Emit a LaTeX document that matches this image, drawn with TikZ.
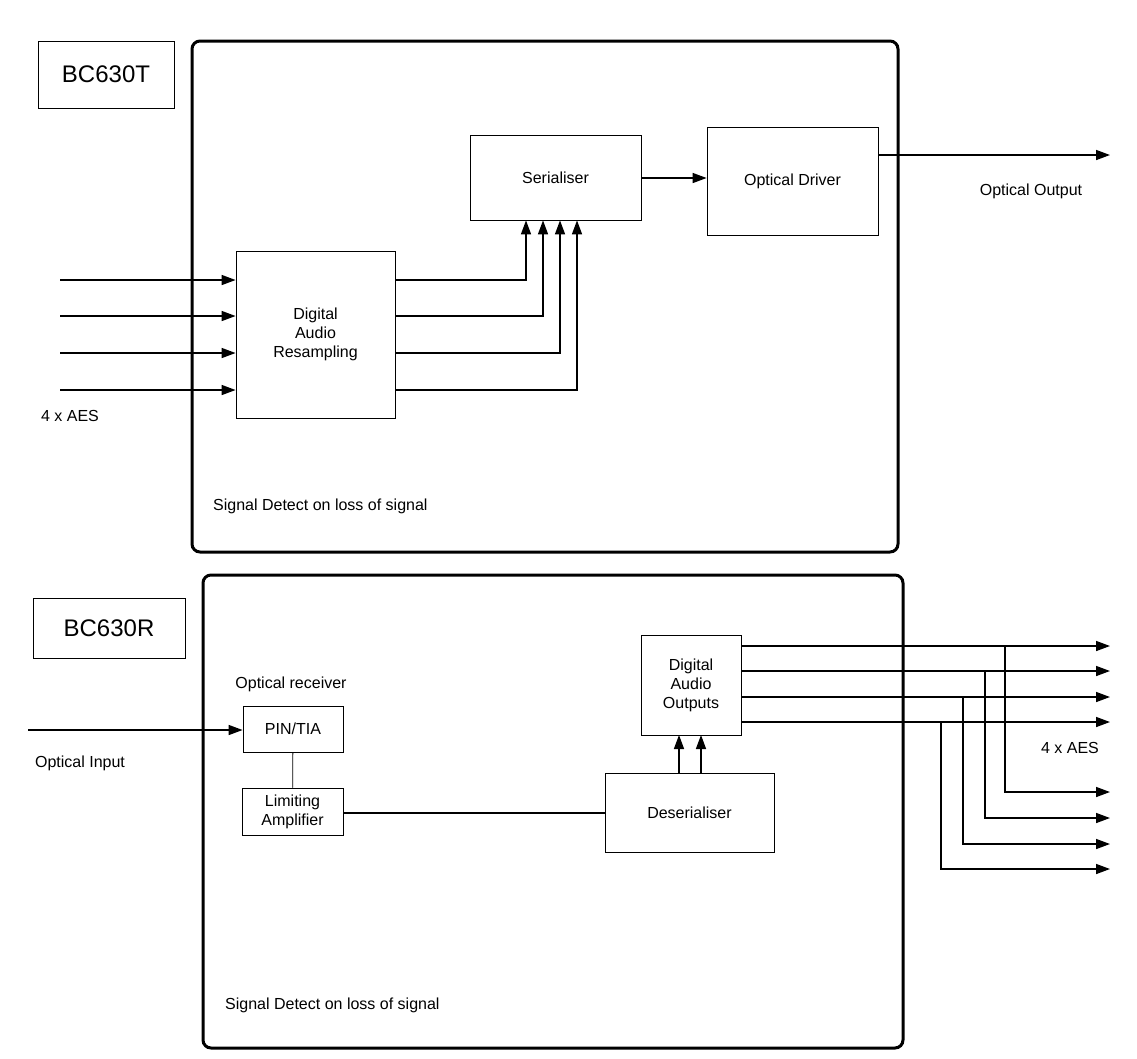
\documentclass[tikz,border=0pt]{standalone}
\usepackage{fontspec}
\setmainfont{Liberation Sans}
\usetikzlibrary{arrows.meta}
\begin{document}
\begin{tikzpicture}[x=1pt,y=-1pt,
  frame/.style={draw,line width=3pt,rounded corners=8pt},
  blk/.style={draw,line width=0.8pt,align=center,font=\fontsize{16}{19}\selectfont,inner sep=0pt},
  lbl/.style={draw,line width=0.8pt,font=\fontsize{24}{28}\selectfont,inner sep=0pt},
  txt/.style={font=\fontsize{16}{19}\selectfont,inner sep=0pt},
  wire/.style={line width=1.5pt},
  arr/.style={line width=1.5pt,-{Triangle[length=14pt,width=10pt]}},
  thin/.style={line width=0.8pt}]
\useasboundingbox (0,0) rectangle (1137,1058);
\newcommand{\optsym}[1]{%
  \draw[line width=1.2pt,fill=white] (#1) circle (12);
  \draw[line width=1.2pt,-{Triangle[length=6pt,width=5pt]}] ($(#1)+(-9,4)$) -- ($(#1)+(3,-8)$);
  \draw[line width=1.2pt,-{Triangle[length=6pt,width=5pt]}] ($(#1)+(-4,9)$) -- ($(#1)+(8,-3)$);}
% top
\draw[frame] (192,41) rectangle (898,552);
\node[lbl,minimum width=136,minimum height=67] (bt) at (106,74.5) {BC630T};
\node[blk,minimum width=171,minimum height=85] (ser) at (555.5,177.5) {Serialiser};
\node[blk,minimum width=171,minimum height=108] (drv) at (792.5,181) {Optical Driver};
\node[blk,minimum width=159,minimum height=167] (res) at (315.5,334.5) {Digital\\Audio\\Resampling};
\draw[arr] (ser.east |- 0,178) -- (drv.west |- 0,178);
\coordinate (oo) at (1110,155);
\draw[arr] (drv.east |- oo) -- (oo);
\coordinate (os) at (931,155);
\node[txt] (ootxt) at (1031,191) {Optical Output};
\foreach \y/\x [count=\i] in {280/526,316/543,353/560,390/577}{
  \coordinate (in\i) at (60,\y);
  \draw[arr] (in\i) -- (res.west |- in\i);
  \draw[arr] (res.east |- in\i) -| (\x,0 |- ser.south);
}
\node[txt] (aes1) at (70,416) {4 x AES};
\node[txt,anchor=west] (sd1) at (213,506) {Signal Detect on loss of signal};
% bottom
\draw[frame] (203,575) rectangle (903,1048);
\node[lbl,minimum width=152,minimum height=60] (br) at (109,628) {BC630R};
\node[txt] (ortxt) at (291,684) {Optical receiver};
\node[blk,minimum width=100,minimum height=46] (pin) at (293,729) {PIN/TIA};
\node[blk,minimum width=101,minimum height=47] (lim) at (292.5,811.5) {Limiting\\Amplifier};
\node[blk,minimum width=169,minimum height=79] (des) at (689.5,812.5) {Deserialiser};
\node[blk,minimum width=100,minimum height=100] (dao) at (691,685) {Digital\\Audio\\Outputs};
\draw[thin] (pin) -- (lim);
\coordinate (oi) at (28,730);
\draw[arr] (oi) -- (pin.west |- oi);
\coordinate (is) at (80,730);
\node[txt] (oitxt) at (80,763) {Optical Input};
\draw[wire] (lim.east |- 0,813) -- (des.west |- 0,813);
\draw[arr] (679,773) -- (679,735);
\draw[arr] (701,773) -- (701,735);
\foreach \y/\x/\yy [count=\i] in {646/1005/792,671/985/818,697/963/844,722/941/869}{
  \coordinate (o\i) at (1110,\y);
  \draw[arr] (dao.east |- o\i) -- (o\i);
  \coordinate (p\i) at (1110,\yy);
  \draw[arr] (\x,\y) |- (p\i);
}
\node[txt] (aes2) at (1070,748) {4 x AES};
\node[txt,anchor=west] (sd2) at (225,1005) {Signal Detect on loss of signal};
\end{tikzpicture}
\end{document}
